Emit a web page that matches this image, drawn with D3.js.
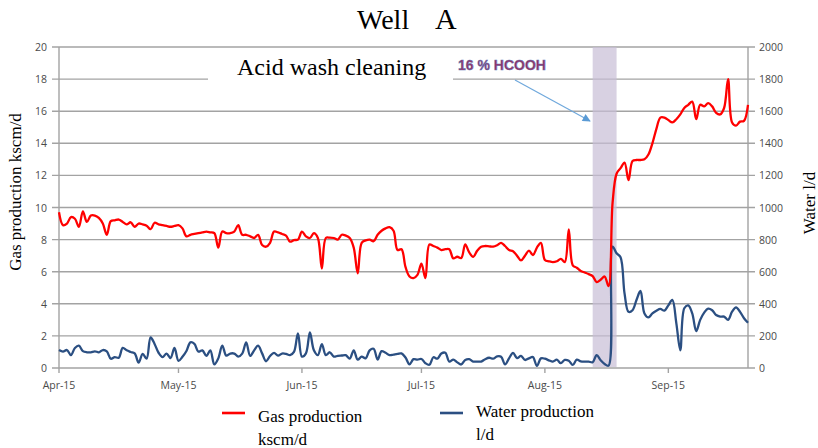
<!DOCTYPE html>
<html>
<head>
<meta charset="utf-8">
<script src="https://cdn.jsdelivr.net/npm/d3@7"></script>
<style>
  body { margin: 0; background: #fff; }
  svg { display: block; }
</style>
</head>
<body>
<script>
// daily readings starting 1 Apr 2015
var startDate = new Date(2015, 3, 1);

var gas = [9.7, 8.9, 9.0, 9.4, 9.3, 8.8, 9.75, 9.1, 9.5, 9.5,
  9.35, 9.0, 8.3, 9.15, 9.2, 9.25, 9.1, 8.95, 9.08, 8.8,
  9.0, 8.95, 8.87, 8.65, 9.05, 8.95, 8.9, 8.85, 8.8, 8.85,
  8.9, 8.7, 8.2, 8.3, 8.35, 8.4, 8.45, 8.5, 8.45, 8.4,
  7.5, 8.5, 8.4, 8.4, 8.5, 8.9, 8.3, 8.3, 8.2, 8.1,
  8.3, 7.66, 7.56, 7.8, 8.5, 8.45, 8.35, 8.25, 7.87, 7.97,
  8.0, 8.5, 8.2, 8.1, 8.4, 8.1, 6.2, 8.1, 8.12, 8.1,
  8.0, 8.3, 8.25, 8.1, 7.5, 5.9, 7.8, 7.95, 8.0, 7.9,
  8.3, 8.55, 8.7, 8.77, 8.55, 7.35, 7.4, 6.3, 5.7, 5.6,
  5.8, 6.5, 5.6, 7.7, 7.6, 7.5, 7.35, 7.4, 7.4, 6.83,
  6.93, 6.85, 7.7, 7.2, 6.93, 7.3, 7.56, 7.6, 7.58, 7.56,
  7.65, 7.8, 7.6, 7.35, 7.28, 7.0, 6.7, 7.0, 7.31, 7.04,
  7.5, 7.8, 6.73, 6.65, 6.6, 6.65, 6.8, 6.6, 8.64, 6.4,
  6.25, 6.05, 5.95, 5.85, 5.73, 5.35, 5.5, 5.7, 5.1, 10.3,
  12.1, 12.45, 12.8, 11.7, 12.9, 12.96, 12.96, 13.0, 13.3, 14.0,
  14.9, 15.6, 15.6, 15.45, 15.3, 15.5, 15.8, 16.2, 16.4, 16.6,
  15.5, 16.4, 16.3, 16.5, 16.3, 15.9, 15.8, 16.2, 18.0, 15.3,
  15.1, 15.35, 15.4, 16.4];

var water = [112, 102, 112, 80, 125, 139, 105, 98, 98, 104,
  98, 112, 104, 58, 68, 64, 125, 110, 100, 91,
  33, 88, 58, 190, 150, 95, 68, 90, 62, 125,
  45, 70, 106, 160, 150, 102, 110, 75, 110, 22,
  60, 140, 77, 90, 90, 71, 90, 160, 75, 110,
  139, 91, 42, 75, 94, 77, 90, 88, 80, 100,
  216, 71, 91, 222, 110, 80, 149, 80, 98, 71,
  76, 78, 80, 58, 110, 52, 71, 60, 110, 120,
  52, 105, 95, 80, 84, 88, 91, 65, 23, 55,
  52, 56, 30, 20, 67, 58, 90, 95, 40, 52,
  35, 22, 50, 55, 40, 40, 40, 55, 64, 58,
  72, 70, 22, 60, 94, 62, 75, 50, 60, 68,
  13, 60, 58, 48, 40, 52, 30, 50, 45, 19,
  52, 42, 40, 40, 36, 80, 48, 25, 15, 756,
  715, 690, 465, 350, 360, 424, 480, 340, 315, 340,
  357, 368, 357, 390, 424, 280, 110, 372, 390, 340,
  230, 300, 345, 370, 360, 330, 320, 320, 300, 351,
  378, 350, 310, 282];

var gasTicks = [0, 2, 4, 6, 8, 10, 12, 14, 16, 18, 20];
var waterTicks = [0, 200, 400, 600, 800, 1000, 1200, 1400, 1600, 1800, 2000];
var treatment = [new Date(2015, 7, 13), new Date(2015, 7, 19)];

var dates = gas.map(function(d, i) { return d3.timeDay.offset(startDate, i); });

var W = 818, H = 448;
var plotL = 59, plotR = 748, plotT = 47, plotB = 368;

var svg = d3.select("body").append("svg")
    .attr("width", W)
    .attr("height", H);

var x = d3.scaleTime()
    .domain([startDate, dates[dates.length - 1]])
    .range([plotL, plotR]);

var yGas = d3.scaleLinear().domain([0, 20]).range([plotB, plotT]);
var yWater = d3.scaleLinear().domain([0, 2000]).range([plotB, plotT]);

var tickFont = "'Open Sans', 'Liberation Sans', sans-serif";
var serif = "'Liberation Serif', 'DejaVu Serif', serif";

// grid lines
svg.append("g").selectAll("line")
    .data(gasTicks).enter()
    .append("line")
      .attr("x1", plotL - 7)
      .attr("x2", plotR + 7)
      .attr("y1", function(d) { return yGas(d); })
      .attr("y2", function(d) { return yGas(d); })
      .attr("stroke", "#a3a3a3")
      .attr("stroke-width", 1.4);

// acid treatment band
svg.append("rect")
    .attr("x", x(treatment[0]))
    .attr("y", plotT)
    .attr("width", x(treatment[1]) - x(treatment[0]))
    .attr("height", plotB - 1 - plotT)
    .attr("fill", "#c7bed6")
    .attr("opacity", 0.7);

// axes
var axisColor = "#a3a3a3";
svg.append("line")
    .attr("x1", plotL).attr("x2", plotL)
    .attr("y1", plotT).attr("y2", plotB)
    .attr("stroke", axisColor).attr("stroke-width", 1.4);
svg.append("line")
    .attr("x1", plotR).attr("x2", plotR)
    .attr("y1", plotT).attr("y2", plotB)
    .attr("stroke", axisColor).attr("stroke-width", 1.4);

var months = d3.timeMonth.range(startDate, dates[dates.length - 1]);
svg.append("g").selectAll("line")
    .data(months).enter()
    .append("line")
      .attr("x1", function(d) { return x(d); })
      .attr("x2", function(d) { return x(d); })
      .attr("y1", plotB)
      .attr("y2", plotB + 5)
      .attr("stroke", axisColor)
      .attr("stroke-width", 1.4);

var fmt = d3.timeFormat("%b-%y");
svg.append("g").selectAll("text")
    .data(months).enter()
    .append("text")
      .attr("x", function(d) { return x(d); })
      .attr("y", 389)
      .attr("text-anchor", "middle")
      .style("font-family", tickFont)
      .style("font-size", "10.5px")
      .style("fill", "#4a4a4a")
      .text(fmt);

svg.append("g").selectAll("text")
    .data(gasTicks).enter()
    .append("text")
      .attr("x", 47)
      .attr("y", function(d) { return yGas(d) + 4; })
      .attr("text-anchor", "end")
      .style("font-family", tickFont)
      .style("font-size", "10.5px")
      .style("fill", "#4a4a4a")
      .text(function(d) { return d; });

svg.append("g").selectAll("text")
    .data(waterTicks).enter()
    .append("text")
      .attr("x", 759)
      .attr("y", function(d) { return yWater(d) + 4; })
      .attr("text-anchor", "start")
      .style("font-family", tickFont)
      .style("font-size", "10.5px")
      .style("fill", "#4a4a4a")
      .text(function(d) { return d; });

// series
var gasLine = d3.line()
    .x(function(d, i) { return x(dates[i]); })
    .y(function(d) { return yGas(d); })
    .curve(d3.curveCatmullRom.alpha(0.5));

var waterLine = d3.line()
    .x(function(d, i) { return x(dates[i]); })
    .y(function(d) { return yWater(d); })
    .curve(d3.curveCatmullRom.alpha(0.5));

svg.append("path")
    .datum(water)
    .attr("d", waterLine)
    .attr("fill", "none")
    .attr("stroke", "#2b4f82")
    .attr("stroke-width", 2.3)
    .attr("stroke-linejoin", "round");

svg.append("path")
    .datum(gas)
    .attr("d", gasLine)
    .attr("fill", "none")
    .attr("stroke", "#ff0000")
    .attr("stroke-width", 2.3)
    .attr("stroke-linejoin", "round");

// annotations
svg.append("rect")
    .attr("x", 208).attr("y", 50)
    .attr("width", 245).attr("height", 31)
    .attr("fill", "#fff");

svg.append("text")
    .attr("x", 237)
    .attr("y", 75)
    .style("font-family", serif)
    .style("font-size", "24px")
    .style("fill", "#000")
    .text("Acid wash cleaning");

svg.append("text")
    .attr("x", 458)
    .attr("y", 70)
    .style("font-family", "'Liberation Sans', 'Open Sans', sans-serif")
    .style("font-size", "14px")
    .style("font-weight", "bold")
    .style("fill", "#963063")
    .style("stroke", "#5a78b8")
    .style("stroke-width", 0.5)
    .text("16 % HCOOH");

svg.append("defs").append("marker")
    .attr("id", "arrow")
    .attr("viewBox", "0 0 10 10")
    .attr("refX", 9).attr("refY", 5)
    .attr("markerWidth", 9).attr("markerHeight", 8)
    .attr("markerUnits", "userSpaceOnUse")
    .attr("orient", "auto")
  .append("path")
    .attr("d", "M0,0L10,5L0,10Z")
    .attr("fill", "#5b9bd5");

svg.append("line")
    .attr("x1", 515).attr("y1", 80)
    .attr("x2", 590).attr("y2", 121)
    .attr("stroke", "#6fa8dc")
    .attr("stroke-width", 1.2)
    .attr("marker-end", "url(#arrow)");

// titles
svg.append("text")
    .attr("x", 357).attr("y", 29)
    .style("font-family", serif)
    .style("font-size", "28px")
    .text("Well");
svg.append("text")
    .attr("x", 435).attr("y", 29)
    .style("font-family", serif)
    .style("font-size", "30px")
    .text("A");

svg.append("text")
    .attr("transform", "translate(21,192) rotate(-90)")
    .attr("text-anchor", "middle")
    .style("font-family", serif)
    .style("font-size", "17px")
    .text("Gas production kscm/d");

svg.append("text")
    .attr("transform", "translate(815,203) rotate(-90)")
    .attr("text-anchor", "middle")
    .style("font-family", serif)
    .style("font-size", "17px")
    .text("Water l/d");

// legend
var legend = [
  {color: "#ff0000", lines: ["Gas production", "kscm/d"], lx: 222, tx: 258, ty: 422},
  {color: "#2b4f82", lines: ["Water production", "l/d"], lx: 440, tx: 476, ty: 417}
];

var lg = svg.append("g").selectAll("g")
    .data(legend).enter()
    .append("g");

lg.append("line")
    .attr("x1", function(d) { return d.lx; })
    .attr("x2", function(d) { return d.lx + 23; })
    .attr("y1", 413).attr("y2", 413)
    .attr("stroke", function(d) { return d.color; })
    .attr("stroke-width", 2.6);

lg.append("text")
    .attr("x", function(d) { return d.tx; })
    .attr("y", function(d) { return d.ty; })
    .style("font-family", serif)
    .style("font-size", "17px")
    .selectAll("tspan")
    .data(function(d) { return d.lines; }).enter()
    .append("tspan")
      .attr("x", function() { return d3.select(this.parentNode).attr("x"); })
      .attr("dy", function(d, i) { return i === 0 ? 0 : 23; })
      .text(function(d) { return d; });
</script>
</body>
</html>
